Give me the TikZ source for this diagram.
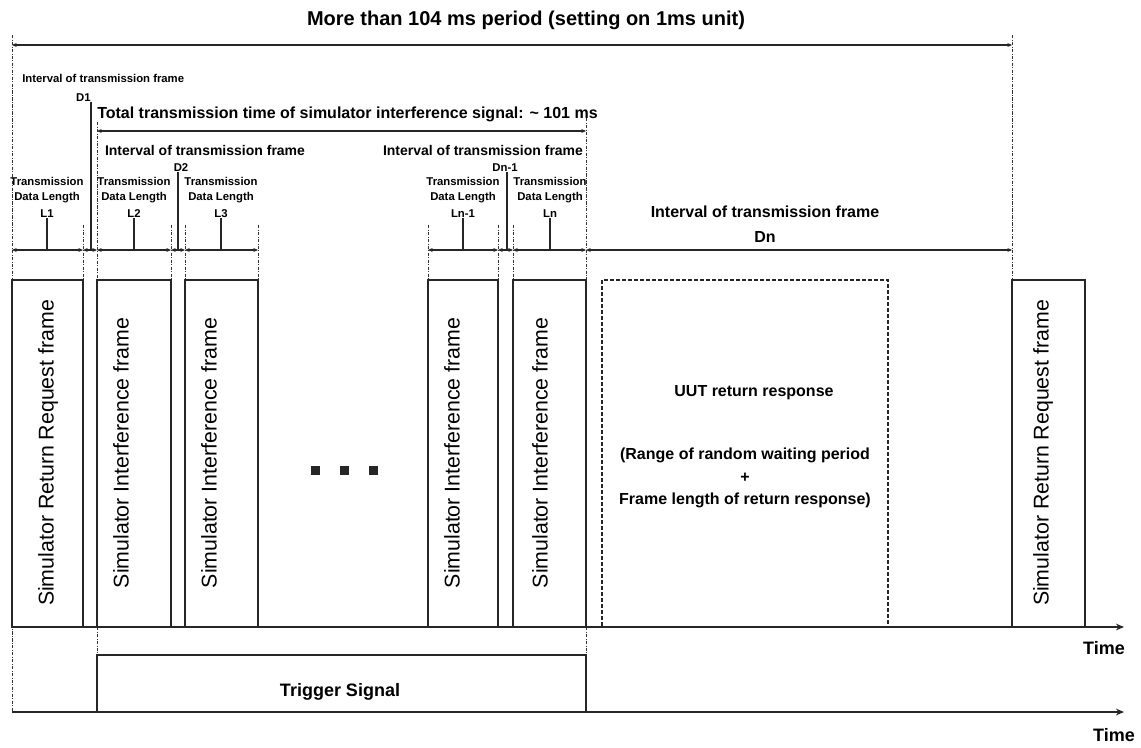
\documentclass[tikz,border=0pt]{standalone}
\usepackage{fontspec}
\setmainfont{Liberation Sans}
\usetikzlibrary{arrows.meta, positioning, calc}

\begin{document}
\begin{tikzpicture}[x=0.75pt,y=-0.75pt,line join=miter,
  guide/.style={black!80,line width=0.7pt,dash pattern=on 2.5pt off 1pt on 0.7pt off 1pt},
  dim/.style={black!85,line width=0.8pt,{Stealth[length=3.5pt,width=3pt]}-{Stealth[length=3.5pt,width=3pt]}},
  gapline/.style={black!85,line width=1.3pt},
  framebox/.style={draw=black!85,line width=0.8pt},
  frametxt/.style={rotate=90,font=\fontsize{16}{18}\selectfont,inner sep=0pt},
  titlelbl/.style={font=\bfseries\fontsize{15}{17}\selectfont,inner sep=0pt},
  midlbl/.style={font=\bfseries\fontsize{12}{14}\selectfont,inner sep=0pt},
  intlbl/.style={font=\bfseries\fontsize{10.5}{12}\selectfont,inner sep=0pt},
  tinylbl/.style={font=\bfseries\fontsize{8.5}{11}\selectfont,inner sep=0pt,align=center},
  axis/.style={black!85,line width=1.3pt,-{Stealth[length=6pt,width=5pt]}},
  biglbl/.style={font=\bfseries\fontsize{13.5}{15}\selectfont,inner sep=0pt}]
  \useasboundingbox (0,0) rectangle (1141,747);

  % overall period
  \node[titlelbl] (period) at (526,20) {More than 104 ms period (setting on 1ms unit)};
  \coordinate (p0) at (12,45);
  \coordinate (p1) at (1012,45);
  \draw[dim] (p0) -- (p1);
  \draw[guide] (12,35) -- (12,712);
  \draw[guide] (1012,35) -- (1012,280);

  % D1
  \node[font=\bfseries\fontsize{8.5}{10}\selectfont,inner sep=0pt,anchor=west] (int1) at (22,78) {Interval of transmission frame};
  \node[tinylbl,anchor=south east] (d1) at (91,102) {D1};

  % total transmission time
  \node[midlbl,anchor=west] (total) at (97,114) {Total transmission time of simulator interference signal: \textasciitilde{} 101 ms};
  \coordinate (t0) at (97,131);
  \coordinate (t1) at (586,131);
  \draw[dim] (t0) -- (t1);
  \draw[guide] (97,122) -- (97,280);
  \draw[guide] (97,627) -- (97,655);
  \draw[guide] (586,118) -- (586,280);
  \draw[guide] (586,627) -- (586,655);

  \node[intlbl] (int2) at (205,150) {Interval of transmission frame};
  \node[intlbl] (int3) at (483,150) {Interval of transmission frame};
  \node[tinylbl,anchor=south] (d2) at (181,172) {D2};
  \node[tinylbl,anchor=south] (dm) at (505,172) {Dn-1};

  % boundaries on the dimension line
  \foreach \n/\x in {0/12,1/83,2/97,3/171,4/185,5/258,6/428,7/498,8/513,9/586,10/1012}
    \coordinate (b\n) at (\x,250);
  \foreach \x in {83,171,185,258,428,498,513}
    \draw[guide] (\x,225) -- (\x,280);

  \draw[gapline] (d1.south east) -- (d1.south east |- b0);
  \draw[gapline] (178,172) -- (178,250);
  \draw[gapline] (507,172) -- (507,250);

  \draw[dim] (b0) -- (b1);
  \draw[dim] (b1) -- (b2);
  \draw[dim] (b2) -- (b3);
  \draw[dim] (b3) -- (b4);
  \draw[dim] (b4) -- (b5);
  \draw[dim] (b6) -- (b7);
  \draw[dim] (b7) -- (b8);
  \draw[dim] (b8) -- (b9);
  \draw[dim] (b9) -- (b10);

  % data lengths
  \foreach \n/\x/\t in {1/47/L1,2/134/L2,3/221/L3,4/463/Ln-1,5/550/Ln} {
    \node[tinylbl] (tx\n) at (\x,190) {Transmission\\Data Length};
    \node[tinylbl] (len\n) at (\x,214) {\t};
    \draw[gapline,line width=1pt] (len\n.south) -- (len\n.south |- b0);
  }

  \node[font=\bfseries\fontsize{12}{19}\selectfont,inner sep=0pt,align=center] (intn) at (765,224) {Interval of transmission frame\\Dn};

  % frames
  \foreach \n/\xa/\xb/\xt/\t in {1/12/83/48/Simulator Return Request frame,
      2/97/171/121/Simulator Interference frame,
      3/185/258/209/Simulator Interference frame,
      4/428/498/452/Simulator Interference frame,
      5/513/586/540/Simulator Interference frame,
      6/1012/1085/1043/Simulator Return Request frame} {
    \draw[framebox] (\xa,280) rectangle (\xb,627);
    \draw[black!85,line width=1.4pt] (\xb,280) -- (\xb,627);
    \node[frametxt] (f\n) at (\xt,453) {\t};
  }
  \foreach \x in {315,344,373}
    \fill[black!85] (\x-4.5,466) rectangle (\x+4.5,475);

  % UUT response
  \draw[black!85,line width=0.8pt,dash pattern=on 3pt off 1.5pt] (602,280) rectangle (888,627);
  \node[midlbl] (uut) at (754,393) {UUT return response};
  \node[font=\bfseries\fontsize{12}{17}\selectfont,inner sep=0pt,align=center] (range) at (745,478) {(Range of random waiting period\\+\\Frame length of return response)};

  % time axes
  \coordinate (ax0) at (12,627);
  \coordinate (ax1) at (1124,627);
  \draw[axis] (ax0) -- (ax1);
  \node[biglbl] (time1) at (1104,648) {Time};
  \coordinate (bx0) at (12,712);
  \coordinate (bx1) at (1124,712);
  \draw[axis] (bx0) -- (bx1);
  \node[biglbl] (time2) at (1114,735) {Time};

  % trigger
  \draw[black!85,line width=1.1pt] (97,712) -- (97,655) -- (586,655) -- (586,712);
  \node[biglbl] (trig) at (340,692) {Trigger Signal};
\end{tikzpicture}
\end{document}
